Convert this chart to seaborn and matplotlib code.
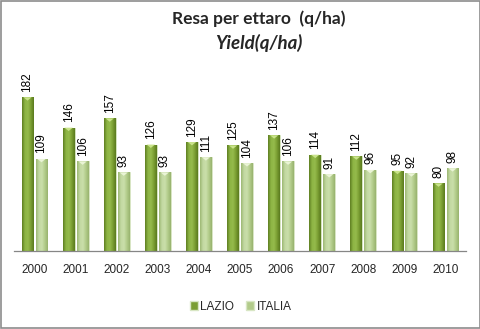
import numpy as np
import pandas as pd
import matplotlib
matplotlib.use("Agg")
import matplotlib.pyplot as plt
import seaborn as sns
from matplotlib.colors import LinearSegmentedColormap
from matplotlib.patches import Polygon, Patch

years = ["2000", "2001", "2002", "2003", "2004", "2005", "2006", "2007", "2008", "2009", "2010"]
lazio = [182, 146, 157, 126, 129, 125, 137, 114, 112, 95, 80]
italia = [109, 106, 93, 93, 111, 104, 106, 91, 96, 92, 98]
series_names = ["LAZIO", "ITALIA"]
base_colors = {"LAZIO": "#7a9e32", "ITALIA": "#b2cb8a"}
grad = {
    "LAZIO": ["#5f7f22", "#8db544", "#95bb4c", "#7a9e32", "#5a7a1f"],
    "ITALIA": ["#9db874", "#c3d9a2", "#cadfaa", "#b2cb8a", "#98b36f"],
}
tri_color = {"LAZIO": "#c9e38a", "ITALIA": "#eaf4d6"}

df = pd.DataFrame({
    "year": years * 2,
    "value": lazio + italia,
    "series": ["LAZIO"] * len(years) + ["ITALIA"] * len(years),
})

sns.set_style("white")
plt.rcParams["font.family"] = ["Liberation Sans", "DejaVu Sans"]

fig = plt.figure(figsize=(4.81, 3.29), dpi=100)
fig.patch.set_facecolor("white")
ax = fig.add_axes([0.029, 0.237, 0.940, 0.565])

sns.barplot(data=df, x="year", y="value", hue="series", order=years,
            hue_order=series_names, palette=base_colors, width=0.68, gap=0.15,
            dodge=True, ax=ax, legend=False, saturation=1)

ax.set_ylim(0, 220)
ax.set_xlim(-0.5, len(years) - 0.5)

n = len(years)
for i, patch in enumerate(ax.patches[:2 * n]):
    s = series_names[i // n]
    val = (lazio + italia)[i]
    x0, y0 = patch.get_x(), patch.get_y()
    w, h = patch.get_width(), patch.get_height()
    cmap = LinearSegmentedColormap.from_list("g", grad[s])
    im = ax.imshow(np.linspace(0, 1, 64).reshape(1, -1), cmap=cmap, aspect="auto",
                   extent=[x0, x0 + w, y0, y0 + h], zorder=patch.get_zorder() + 0.1)
    im.set_clip_path(patch)
    patch.set_edgecolor("#d8e6c4")
    patch.set_linewidth(0.6)
    tri = Polygon([[x0 + w * 0.15, y0 + h], [x0 + w * 0.85, y0 + h], [x0 + w * 0.5, y0 + h - 4]],
                  closed=True, facecolor=tri_color[s], edgecolor="none",
                  zorder=patch.get_zorder() + 0.2)
    ax.add_patch(tri)
    ax.text(x0 + w / 2, y0 + h + 6.5, f"{val}", rotation=90, ha="center", va="bottom",
            fontsize=8.5, color="#000000", clip_on=False)

ax.set_xlabel("")
ax.set_ylabel("")
ax.set_yticks([])
ax.tick_params(axis="x", length=0, labelsize=8.5, pad=9)
for sp in ["top", "right", "left"]:
    ax.spines[sp].set_visible(False)
ax.spines["bottom"].set_color("#868686")
ax.spines["bottom"].set_linewidth(0.9)
ax.set_facecolor("none")

fig.text(0.537, 0.942, "Resa per ettaro  (q/ha)", ha="center", va="center",
         fontsize=12.5, fontweight="bold", family=["Lato", "DejaVu Sans"])
fig.text(0.537, 0.87, "Yield(q/ha)", ha="center", va="center",
         fontsize=13.5, fontweight="bold", style="italic", family=["Lato", "DejaVu Sans"])

handles = [Patch(facecolor=base_colors[s], edgecolor="#d8e6c4") for s in series_names]
fig.legend(handles, series_names, loc="center", bbox_to_anchor=(0.5, 0.068), ncol=2,
           frameon=False, fontsize=8.5, handlelength=0.7, handleheight=0.7,
           handletextpad=0.2, columnspacing=1.0)

fig.add_artist(plt.Rectangle((0.002, 0.003), 0.995, 0.994, transform=fig.transFigure,
                             fill=False, edgecolor="#8c8c8c", linewidth=1.2))

fig.savefig("out.png", dpi=100)
